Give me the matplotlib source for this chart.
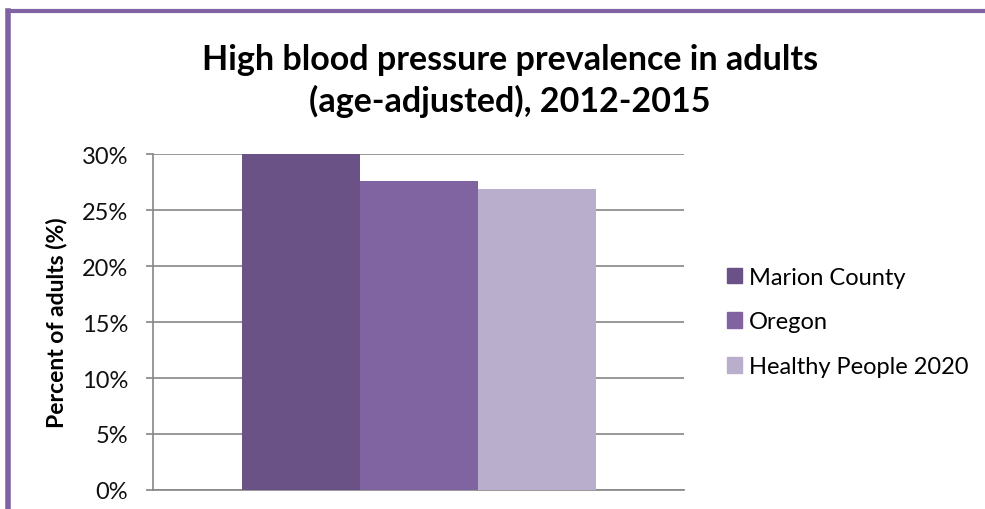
import matplotlib.pyplot as plt
import matplotlib.patches as mpatches
from matplotlib.lines import Line2D
from matplotlib.ticker import FuncFormatter

plt.rcParams['font.family'] = ['Lato', 'DejaVu Sans']

series = ['Marion County', 'Oregon', 'Healthy People 2020']
values = [30.0, 27.6, 26.9]
colors = ['#6A5186', '#8064A2', '#B9AECB']
yticks = [0, 5, 10, 15, 20, 25, 30]

fig = plt.figure(figsize=(9.85, 5.10), dpi=100)
ax = fig.add_axes([153 / 985, 19 / 510, 531 / 985, 336 / 510])

# grouped bars around a single category
width = 2 / 9
offsets = [-width, 0, width]
for name, val, col, off in zip(series, values, colors, offsets):
    ax.bar(off, val, width=width, color=col, label=name, zorder=3)

ax.set_xlim(-0.5, 0.5)
ax.set_ylim(0, 30)
ax.set_yticks(yticks)
ax.yaxis.set_major_formatter(FuncFormatter(lambda v, p: f'{v:.0f}%'))
ax.set_xticks([])
ax.grid(axis='y', color='#868686', linewidth=1.2, zorder=0)
for side in ['top', 'right']:
    ax.spines[side].set_visible(False)
for side in ['left', 'bottom']:
    ax.spines[side].set_color('#868686')
    ax.spines[side].set_linewidth(1.2)
ax.tick_params(axis='y', length=5, width=1.2, color='#868686', labelsize=17,
               pad=13, labelcolor='#111111')

ax.set_ylabel('Percent of adults (%)', fontsize=16.5, fontweight='bold', labelpad=10)

fig.text(0.518, 1 - 60 / 510, 'High blood pressure prevalence in adults',
         ha='center', va='center', fontsize=24.5, fontweight='bold')
fig.text(0.518, 1 - 101 / 510, '(age-adjusted), 2012-2015',
         ha='center', va='center', fontsize=24.5, fontweight='bold')

handles = [mpatches.Patch(color=c, label=s) for s, c in zip(series, colors)]
fig.legend(handles=handles, loc='center left', bbox_to_anchor=(727 / 985, 1 - 323 / 510),
           frameon=False, fontsize=17, handlelength=0.64, handleheight=0.64,
           handletextpad=0.3, labelspacing=1.0, borderpad=0, borderaxespad=0)

# purple frame on the top and left edges
fig.add_artist(Line2D([8 / 985, 1], [1 - 12 / 510, 1 - 12 / 510], color='#8064A2',
                      linewidth=3, transform=fig.transFigure))
fig.add_artist(Line2D([8 / 985, 8 / 985], [0, 1 - 12 / 510], color='#8064A2',
                      linewidth=4, transform=fig.transFigure))

plt.savefig('out.png', dpi=100)
plt.close()
